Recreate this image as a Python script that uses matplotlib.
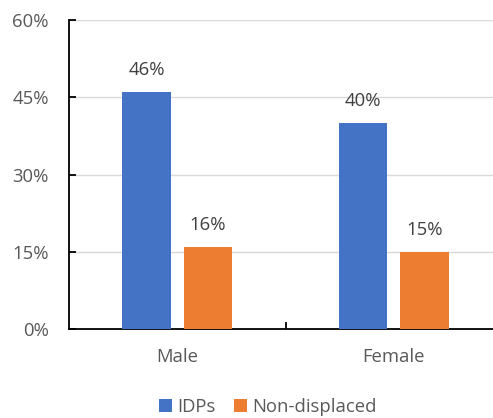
import matplotlib
matplotlib.use("Agg")
import matplotlib.pyplot as plt
import numpy as np
from matplotlib.ticker import FixedLocator, PercentFormatter

categories = ["Male", "Female"]
series_names = ["IDPs", "Non-displaced"]
idps = [46, 40]
non_displaced = [16, 15]
y_ticks = [0, 15, 30, 45, 60]

colors = ["#4472C4", "#ED7D31"]
text_color = "#595959"
plt.rcParams["font.family"] = ["Open Sans", "DejaVu Sans"]
fs = 13.3

W, H = 493, 418
fig = plt.figure(figsize=(W / 100, H / 100), dpi=100)
# plot area spans x 69..502 px, y 20..329 px (top-origin)
ax = fig.add_axes([69 / W, (H - 329) / H, (502 - 69) / W, (329 - 20) / H])

x = np.arange(len(categories))
width = 0.223
offset = 0.1416
bars = []
for i, (vals, name) in enumerate(zip([idps, non_displaced], series_names)):
    pos = x + (-offset if i == 0 else offset)
    b = ax.bar(pos, vals, width=width, color=colors[i], label=name, zorder=3)
    bars.append(b)
    for px, v in zip(pos, vals):
        ax.annotate(f"{v}%", (px, v), xytext=(0, 22), textcoords="offset pixels",
                    ha="center", va="center", fontsize=fs, color="#404040")

ax.set_xlim(-0.5, 1.5)
ax.set_ylim(0, 60)
ax.yaxis.set_major_locator(FixedLocator(y_ticks))
ax.yaxis.set_major_formatter(PercentFormatter(decimals=0))
ax.grid(axis="y", color="#D9D9D9", linewidth=1, zorder=0)

for s in ["top", "right"]:
    ax.spines[s].set_visible(False)
for s in ["left", "bottom"]:
    ax.spines[s].set_color("black")
    ax.spines[s].set_linewidth(1.3)

ax.tick_params(axis="y", direction="in", length=5, width=1.3, colors="black",
               labelcolor=text_color, labelsize=fs, pad=14.5)
ax.set_xticks([0.5])
ax.set_xticklabels([""])
ax.tick_params(axis="x", direction="in", length=5, width=1.3, colors="black")
for xi, c in zip(x, categories):
    ax.text(xi, -0.09, c, transform=ax.get_xaxis_transform(), ha="center",
            va="center", fontsize=fs, color=text_color)

fig.legend(handles=bars, labels=series_names, loc="center",
           bbox_to_anchor=(268 / W, 1 - 407 / H), ncol=2, frameon=False,
           fontsize=fs, labelcolor=text_color, handlelength=0.7,
           handleheight=0.7, handletextpad=0.3, columnspacing=1.0)

fig.savefig("out.png", dpi=100)
